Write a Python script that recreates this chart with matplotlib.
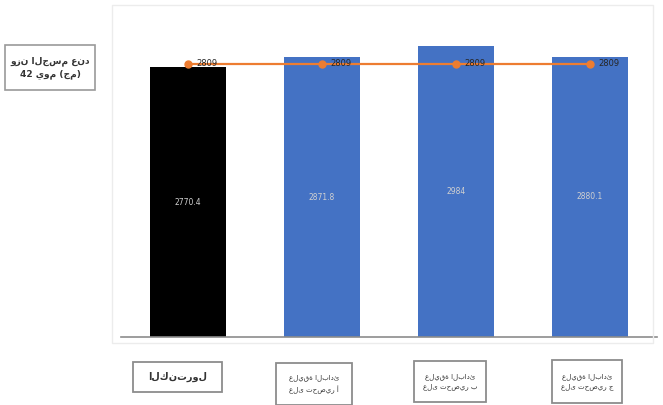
import matplotlib
matplotlib.use("Agg")
import matplotlib.pyplot as plt
from matplotlib.patches import Rectangle

plt.rcParams['font.family'] = ['DejaVu Sans']

categories = ["الكنترول", "عليقة البادئ\nعلى تحضير أ", "عليقة البادئ\nعلى تحضير ب", "عليقة البادئ\nعلى تحضير ج"]
bar_values = [2770.4, 2871.8, 2984, 2880.1]
bar_labels = ["2770.4", "2871.8", "2984", "2880.1"]
line_values = [2809, 2809, 2809, 2809]
line_labels = ["2809", "2809", "2809", "2809"]
y_title = "وزن الجسم عند\n42 يوم (جم)"

bar_colors = ["#000000", "#4472C4", "#4472C4", "#4472C4"]

W, H = 663, 405
fig = plt.figure(figsize=(W / 100, H / 100), dpi=100)
fig.patch.set_facecolor("white")


def px_rect(x0, y0, x1, y1, ec, lw):
    fig.patches.append(Rectangle((x0 / W, 1 - y1 / H), (x1 - x0) / W, (y1 - y0) / H,
                                 transform=fig.transFigure, fill=False,
                                 edgecolor=ec, linewidth=lw))


# chart-area frame
px_rect(112, 5, 653, 343, "#ececec", 1.0)

ax = fig.add_axes([121 / W, 1 - 337 / H, (657 - 121) / W, (337 - 6) / H])
x = list(range(len(categories)))
bars = ax.bar(x, bar_values, width=0.565, color=bar_colors, zorder=2)
for b, lab in zip(bars, bar_labels):
    ax.text(b.get_x() + b.get_width() / 2, b.get_height() / 2, lab,
            ha="center", va="center", fontsize=5.5, color="#d0d0d0", zorder=3)

ax.plot(x, line_values, color="#ED7D31", linewidth=1.6, marker="o",
        markersize=5, zorder=4)
for xi, v, lab in zip(x, line_values, line_labels):
    ax.text(xi + 0.06, v, lab, ha="left", va="center", fontsize=6,
            color="#262626", zorder=5)

ax.set_xlim(-0.5, 3.5)
ax.set_ylim(0, 3400)
for s in ["top", "right", "left"]:
    ax.spines[s].set_visible(False)
ax.spines["bottom"].set_color("#8c8c8c")
ax.spines["bottom"].set_linewidth(1.2)
ax.set_xticks([])
ax.set_yticks([])

# y-title box
px_rect(5, 45, 95, 90, "#9a9a9a", 1.2)
fig.text(50 / W, 1 - 67.5 / H, y_title, ha="center", va="center", fontsize=6.5,
         fontweight="bold", color="#333333", linespacing=1.5)

# category boxes
boxes = [(133, 362, 222, 392), (276, 363, 352, 405), (414, 361, 486, 402), (552, 360, 622, 403)]
for (x0, y0, x1, y1), cat, i in zip(boxes, categories, x):
    px_rect(x0, y0, x1, y1, "#8c8c8c", 1.3)
    cx, cy = (x0 + x1) / 2, (y0 + y1) / 2
    if i == 0:
        fig.text(cx / W, 1 - cy / H, cat, ha="center", va="center", fontsize=7,
                 fontweight="bold", color="#333333")
    else:
        fig.text(cx / W, 1 - cy / H, cat, ha="center", va="center", fontsize=5,
                 color="#333333", linespacing=1.6)

fig.savefig("out.png", dpi=100)
